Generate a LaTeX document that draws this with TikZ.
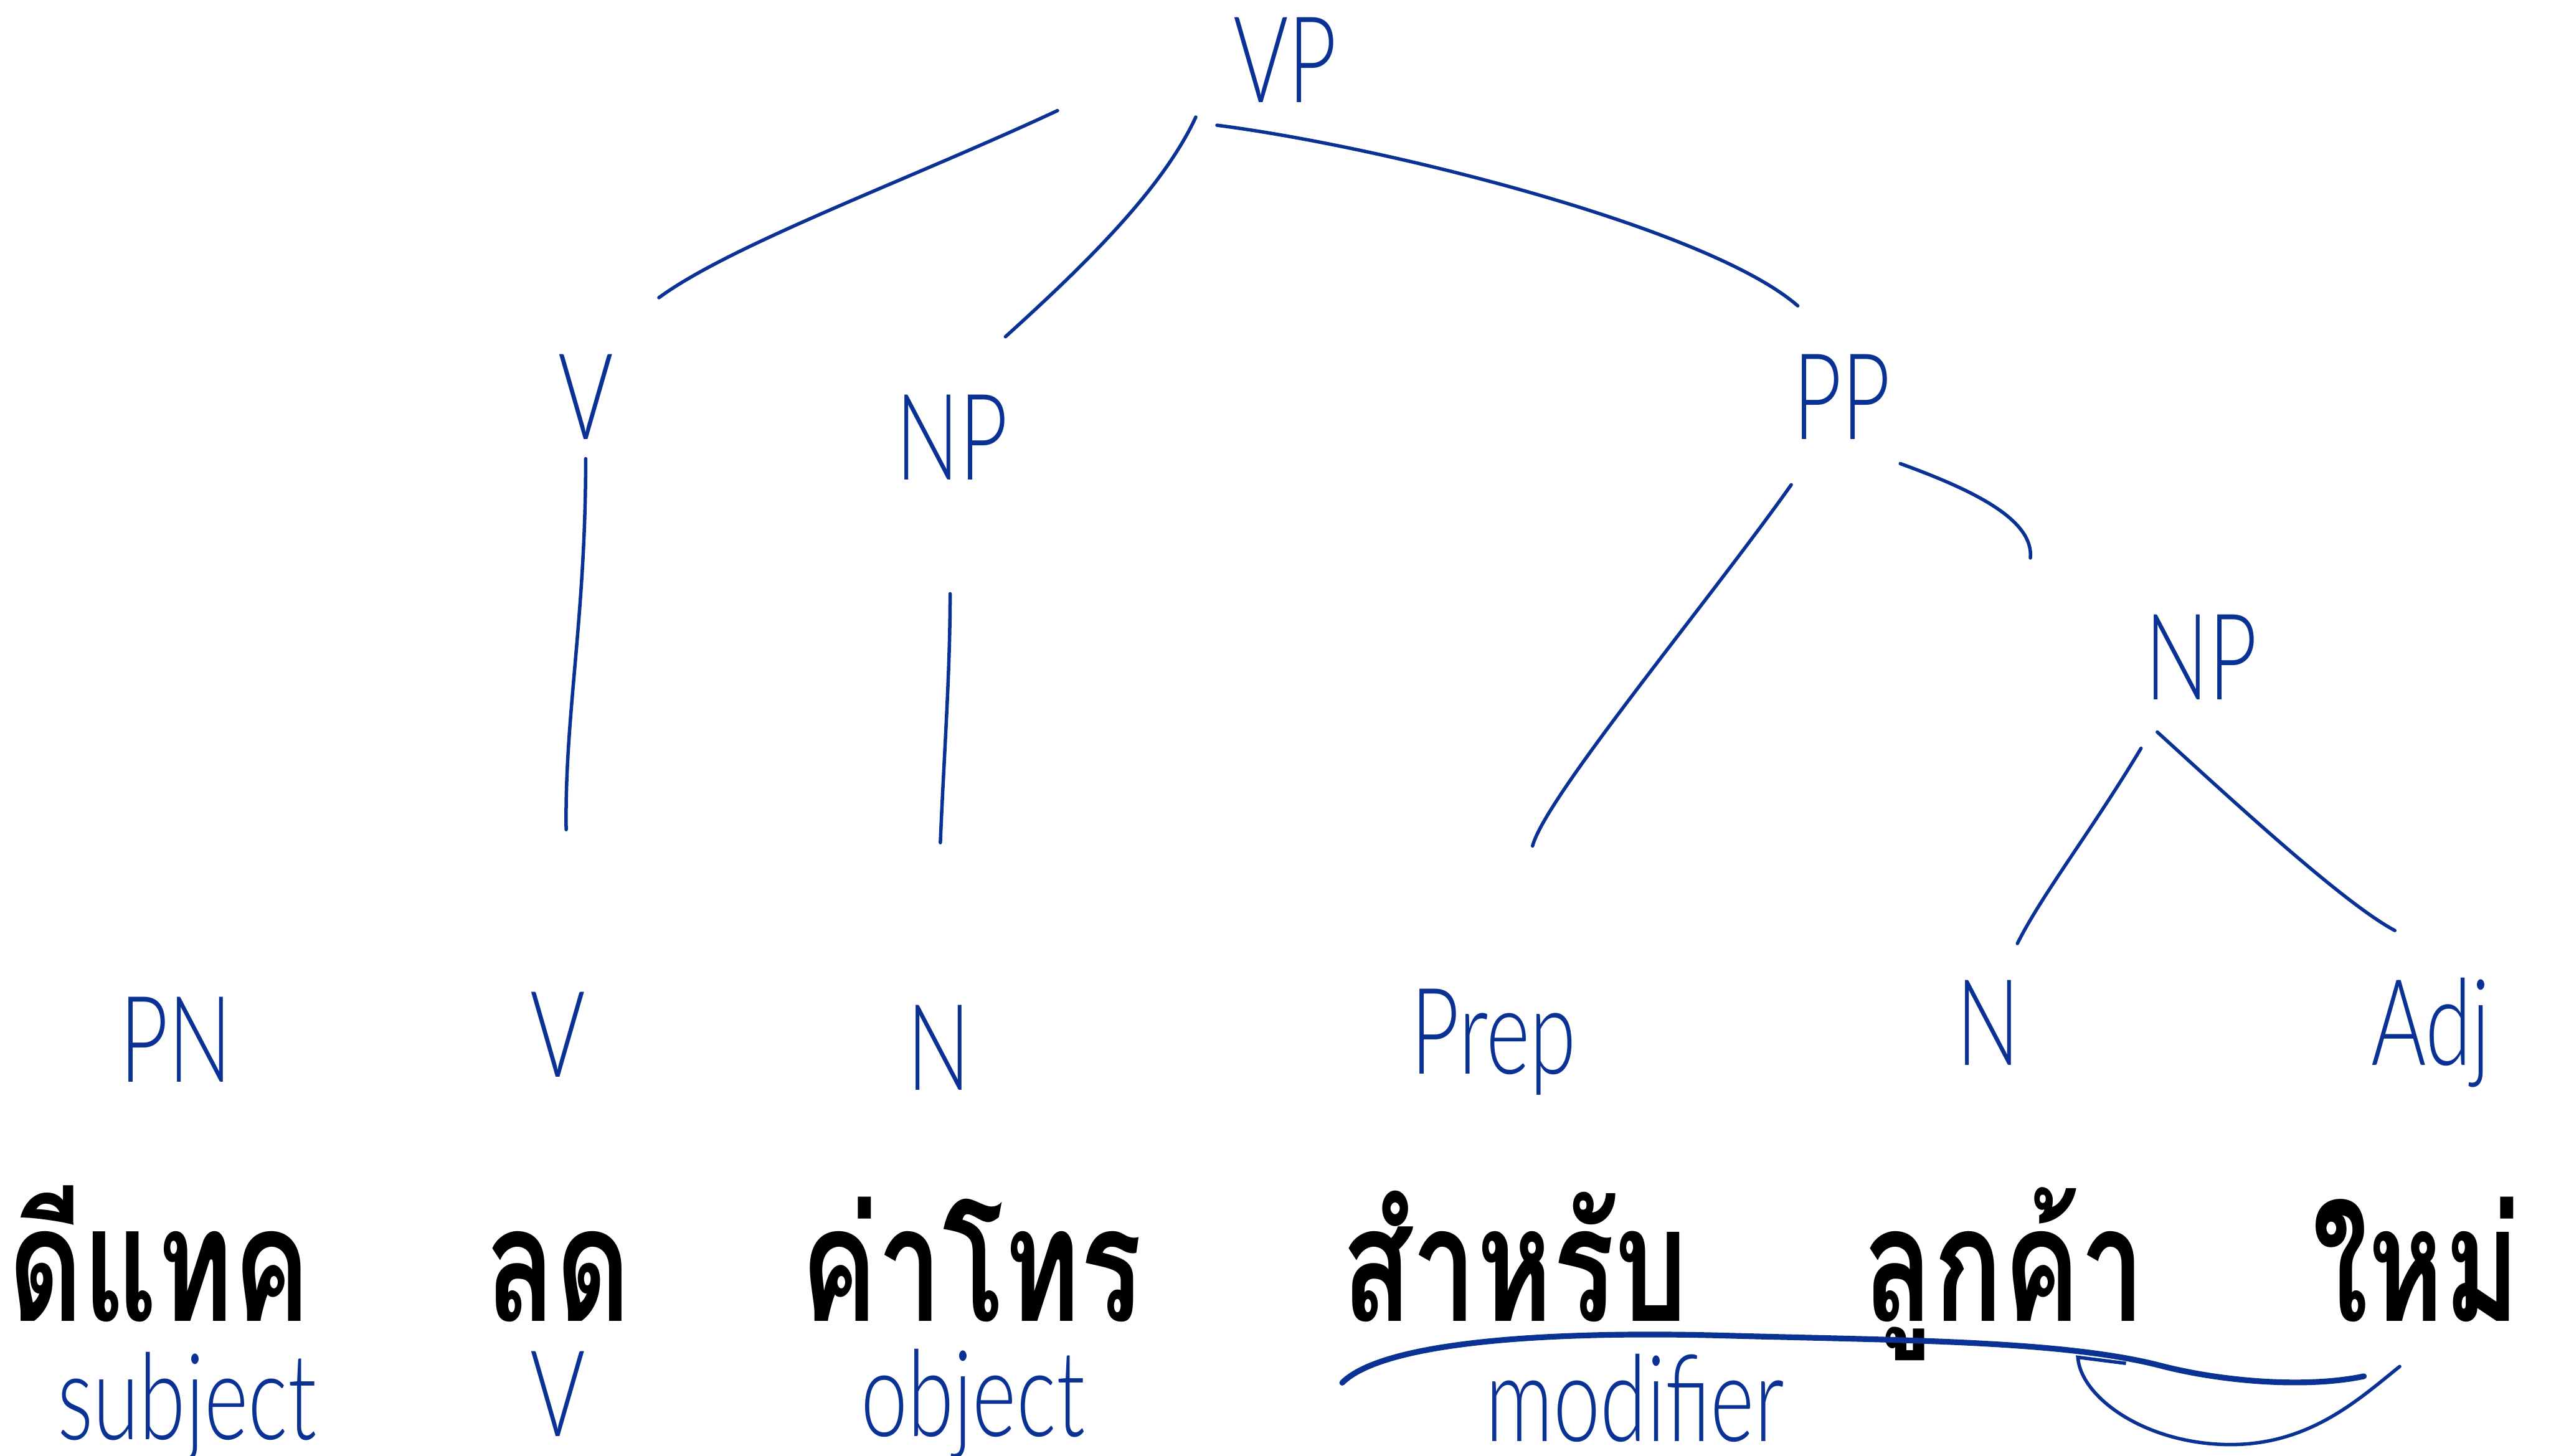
\documentclass[tikz,border=0pt]{standalone}
\usepackage{fontspec}
\usetikzlibrary{arrows.meta}
\newfontfamily\thaifont[Script=Thai,FakeStretch=0.72]{Loma}
\newfontfamily\handfont[FakeStretch=0.7]{Lato Light}
\definecolor{ink}{RGB}{10,50,148}

\tikzset{
  cat/.style={anchor=base, inner sep=0pt, text=ink, font=\handfont\fontsize{21}{21}\selectfont},
  role/.style={cat},
  word/.style={anchor=base, inner sep=0pt, text depth=0pt, font=\thaifont\bfseries\fontsize{28}{28}\selectfont},
  branch/.style={draw=ink, line width=0.6pt, line cap=round},
}

\begin{document}
\begin{tikzpicture}[x=0.1mm,y=-0.1mm]
  \useasboundingbox (0,0) rectangle (1568,895);

  % categories
  \node[cat] (vp) at (790,63) {VP};
  \node[cat] (v1) at (360,270) {V};
  \node[cat] (np1) at (585,295) {NP};
  \node[cat] (pp) at (1132,270) {PP};
  \node[cat] (np2) at (1353,430) {NP};

  \node[cat] (pn) at (108,665) {PN};
  \node[cat] (v2) at (343,662) {V};
  \node[cat] (n1) at (577,670) {N};
  \node[cat] (prep) at (918,660) {Prep};
  \node[cat] (n2) at (1222,655) {N};
  \node[cat] (adj) at (1494,655) {Adj};

  % words
  \node[word] (w1) at (98,812) {ดีแทค};
  \node[word] (w2) at (343,812) {ลด};
  \node[word] (w3) at (597,812) {ค่าโทร};
  \node[word] (w4) at (931,812) {สำหรับ};
  \node[word] (w5) at (1232,812) {ลูกค้า};
  \node[word] (w6) at (1485,812) {ใหม่};

  \node[role] (r1) at (115,885) {subject};
  \node[role] (r2) at (343,883) {V};
  \node[role] (r3) at (598,883) {object};
  \node[role] (r4) at (1005,886) {modifier};

  % branches
  \draw[branch] ([shift={(-140,5)}]vp.base) .. controls +(-90,42) and +(45,-33) .. ([shift={(45,-87)}]v1.base);
  \draw[branch] ([shift={(-55,9)}]vp.base) .. controls +(-20,43) and +(52,-47) .. ([shift={(33,-88)}]np1.base);
  \draw[branch] ([shift={(-42,14)}]vp.base) .. controls +(102,13) and +(-55,-48) .. ([shift={(-27,-82)}]pp.base);
  \draw[branch] ([shift={(0,12)}]v1.base) .. controls +(0,98) and +(-1,-70) .. ([shift={(5,-152)}]v2.base);
  \draw[branch] ([shift={(-1,70)}]np1.base) .. controls +(0,50) and +(2,-50) .. ([shift={(1,-152)}]n1.base);
  \draw[branch] ([shift={(-31,28)}]pp.base) .. controls +(-51,72) and +(8,-30) .. ([shift={(24,-140)}]prep.base);
  \draw[branch] ([shift={(36,15)}]pp.base) .. controls +(47,17) and +(2,-23) .. ([shift={(-105,-87)}]np2.base);
  \draw[branch] ([shift={(-37,30)}]np2.base) .. controls +(-30,50) and +(15,-30) .. ([shift={(18,-75)}]n2.base);
  \draw[branch] ([shift={(-27,20)}]np2.base) .. controls +(44,40) and +(-32,-17) .. ([shift={(-22,-83)}]adj.base);

  % modifier span and arrow
  \draw[branch, line width=1pt] ([shift={(-106,38)}]w4.base) .. controls (850,825) and (950,818) .. (1060,821)
    .. controls (1170,824) and (1270,824) .. (1330,840) .. controls (1370,850) and (1420,853) .. ([shift={(-32,34)}]w6.base);
  \draw[branch, -{Straight Barb[right,length=0.7mm,width=5.8mm]}] ([shift={(-10,28)}]w6.base)
    .. controls +(-25,20) and +(49,0) .. (1371,888) .. controls +(-51,0) and +(3,27) .. ([shift={(45,21)}]w5.base);
\end{tikzpicture}
\end{document}
